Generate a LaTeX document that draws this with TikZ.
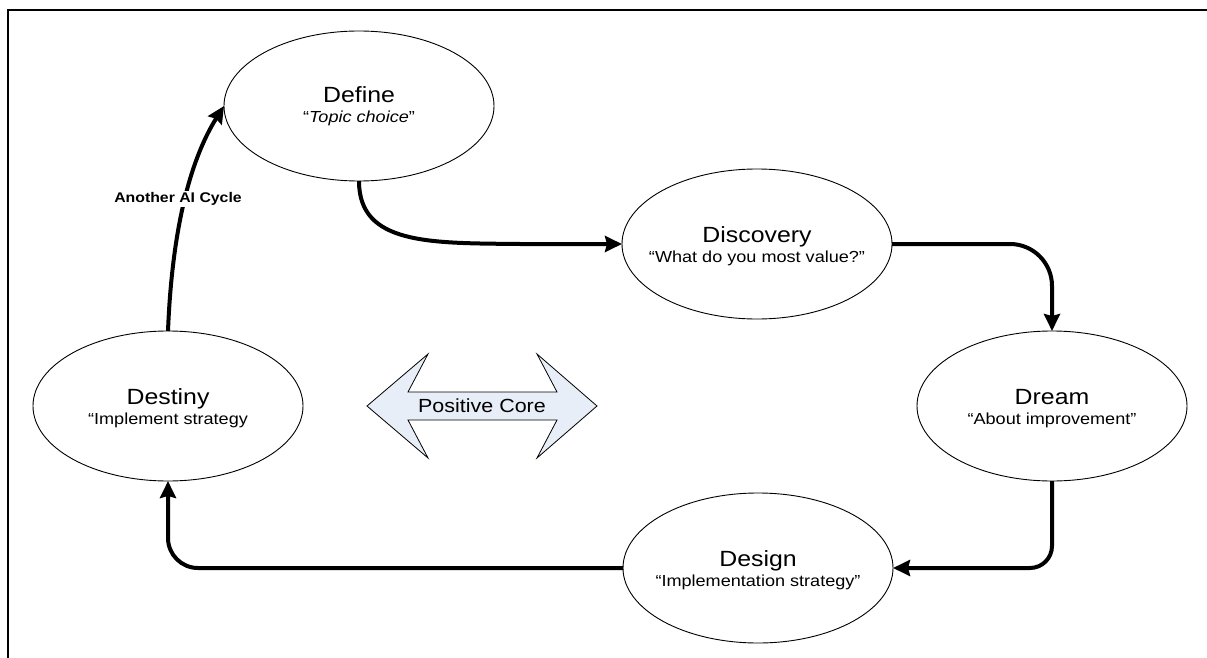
\documentclass[tikz,border=0pt]{standalone}
\usepackage{fontspec}
\setmainfont{Liberation Sans}[FakeStretch=1.13]
\usetikzlibrary{shapes.geometric,arrows.meta}
\definecolor{pcfill}{RGB}{232,238,247}
\tikzset{
  stage/.style={ellipse, draw, line width=0.9pt, minimum width=270pt, minimum height=150pt, inner sep=0pt, outer sep=0pt},
  ttl/.style={anchor=base, inner sep=0pt, font=\fontsize{22}{24}\selectfont},
  sub/.style={anchor=base, inner sep=0pt, font=\fontsize{16}{18}\selectfont},
  conn/.style={line width=4pt, -{Stealth[length=17pt,width=16pt,inset=2pt]}},
}
\begin{document}
\begin{tikzpicture}[x=1pt,y=-1pt]
\useasboundingbox (0,0) rectangle (1207,658);
\draw[line width=2pt] (7.5,658) -- (7.5,10) -- (1207,10);

\node[stage] (Define) at (359,106) {};
\node[stage] (Discovery) at (757,244) {};
\node[stage] (Dream) at (1052,406) {};
\node[stage] (Design) at (758,568) {};
\node[stage] (Destiny) at (168,406) {};

\node[ttl] (DefineT) at (359,103) {Define};
\node[sub] (DefineS) at (359,123) {“\textit{Topic choice}”};
\node[ttl] (DiscoveryT) at (757,242) {Discovery};
\node[sub] (DiscoveryS) at (757,262) {“What do you most value?”};
\node[ttl] (DreamT) at (1052,404) {Dream};
\node[sub] (DreamS) at (1052,424) {“About improvement”};
\node[ttl] (DesignT) at (758,566) {Design};
\node[sub] (DesignS) at (758,586) {“Implementation strategy”};
\node[ttl] (DestinyT) at (168,404) {Destiny};
\node[sub] (DestinyS) at (168,424) {“Implement strategy};

\draw[conn] (Define.south) .. controls (359,245) and (430,243) .. (520,244) -- (Discovery.west);
\draw[conn, rounded corners=42pt] (Discovery.east) -| (Dream.north);
\draw[conn, rounded corners=22pt] (Dream.south) |- (Design.east);
\draw[conn, rounded corners=30pt] (Design.west) -| (Destiny.south);
\draw[conn] (Destiny.north) .. controls (172,230) and (190,160) .. (Define.west);
\node[fill=white, inner sep=1pt, font=\bfseries\fontsize{14}{16}\selectfont] (cycle) at (178,199) {Another AI Cycle};

\draw[line width=0.8pt, fill=pcfill]
  (367,406) -- (428,354) -- (408,392) -- (557,392) -- (537,354) -- (597,406)
  -- (537,458) -- (557,420) -- (408,420) -- (428,458) -- cycle;
\node[font=\fontsize{19}{21}\selectfont, inner sep=0pt] (core) at (482,406) {Positive Core};
\end{tikzpicture}
\end{document}
